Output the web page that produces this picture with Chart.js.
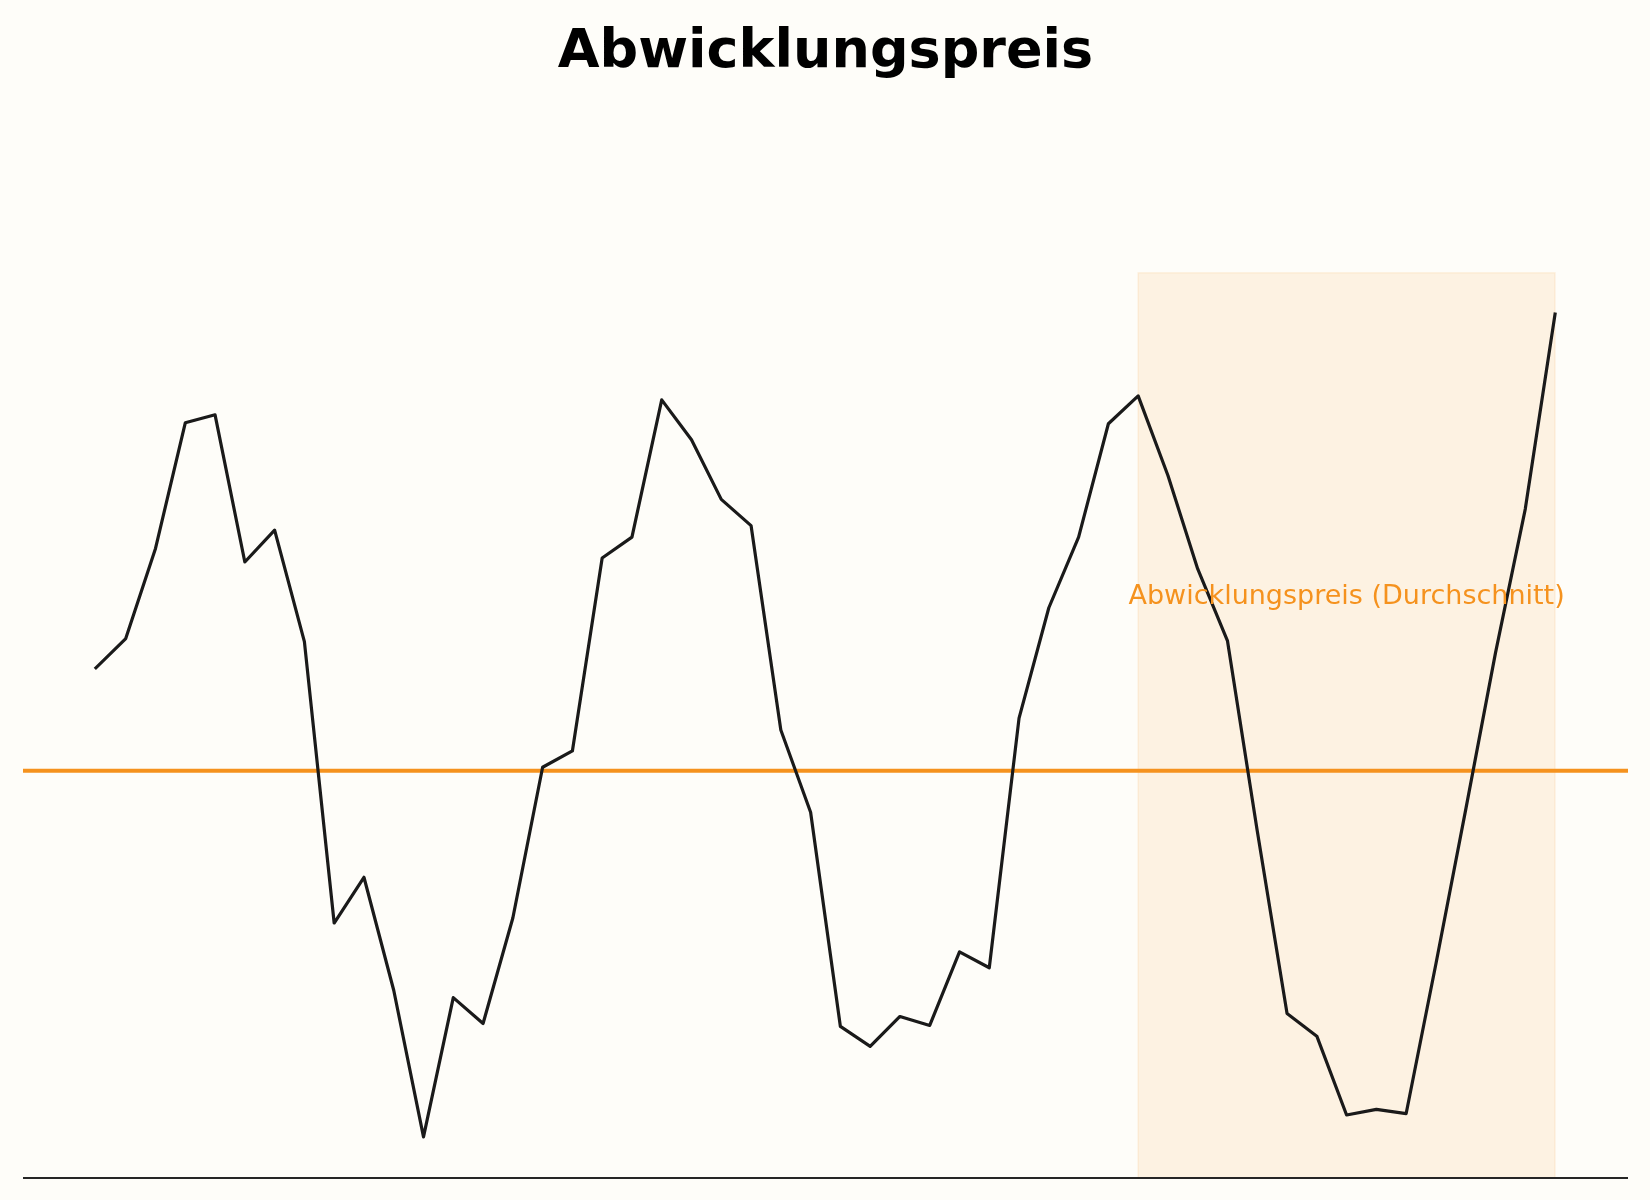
<!DOCTYPE html>
<html lang="de">
<head>
<meta charset="utf-8">
<title>Abwicklungspreis</title>
<script src="https://cdn.jsdelivr.net/npm/chart.js@4.4.1/dist/chart.umd.min.js"></script>
<style>
  html, body { margin: 0; padding: 0; background: #FEFDF9; }
  #wrap { width: 1650px; height: 1200px; position: relative; }
</style>
</head>
<body>
<div id="wrap"><canvas id="chart"></canvas></div>
<script>
// --- Daten ---
const periods = [0, 1, 2, 3, 4, 5, 6, 7, 8, 9, 10, 11, 12, 13, 14, 15, 16, 17, 18, 19,
  20, 21, 22, 23, 24, 25, 26, 27, 28, 29, 30, 31, 32, 33, 34, 35, 36, 37, 38, 39,
  40, 41, 42, 43, 44, 45, 46, 47, 48, 49];
const prices = [105.18, 106.65, 111.18, 117.50, 117.90, 110.50, 112.10, 106.50, 92.35, 94.65,
  88.97, 81.60, 88.60, 87.30, 92.60, 100.18, 101.00, 110.70, 111.75, 118.65,
  116.65, 113.65, 112.33, 102.05, 97.92, 87.15, 86.15, 87.65, 87.20, 90.90,
  90.10, 102.65, 108.20, 111.75, 117.45, 118.85, 114.85, 110.15, 106.53, 96.97,
  87.80, 86.66, 82.70, 82.98, 82.77, 90.30, 98.05, 105.93, 113.16, 122.97];
const averagePrice = 100.0;
const highlightRange = [35, 49];
const averageLabel = 'Abwicklungspreis (Durchschnitt)';
const averageLabelY = 108.4;

const orange = '#F5921E';

const highlightPlugin = {
  id: 'highlight',
  beforeDatasetsDraw(chart) {
    const { ctx, chartArea, scales } = chart;
    const x0 = scales.x.getPixelForValue(highlightRange[0]);
    const x1 = scales.x.getPixelForValue(highlightRange[1]);
    ctx.save();
    ctx.fillStyle = 'rgba(245,146,30,0.10)';
    ctx.fillRect(x0, chartArea.top, x1 - x0, chartArea.bottom - chartArea.top);
    ctx.strokeStyle = 'rgba(245,146,30,0.10)';
    ctx.lineWidth = 1.5;
    ctx.strokeRect(x0, chartArea.top, x1 - x0, chartArea.bottom - chartArea.top);

    // Durchschnittslinie
    const ym = scales.y.getPixelForValue(averagePrice);
    ctx.strokeStyle = orange;
    ctx.lineWidth = 4;
    ctx.beginPath();
    ctx.moveTo(chartArea.left, ym);
    ctx.lineTo(chartArea.right, ym);
    ctx.stroke();

    // untere Achse
    ctx.strokeStyle = '#262626';
    ctx.lineWidth = 2;
    ctx.beginPath();
    ctx.moveTo(chartArea.left, chartArea.bottom);
    ctx.lineTo(chartArea.right, chartArea.bottom);
    ctx.stroke();
    ctx.restore();
  },
  afterDatasetsDraw(chart) {
    const { ctx, scales } = chart;
    const xc = scales.x.getPixelForValue((highlightRange[0] + highlightRange[1]) / 2);
    const yl = scales.y.getPixelForValue(averageLabelY);
    ctx.save();
    ctx.font = '27px "DejaVu Sans"';
    ctx.fillStyle = orange;
    ctx.textAlign = 'center';
    ctx.textBaseline = 'alphabetic';
    ctx.fillText(averageLabel, xc, yl);
    ctx.restore();
  }
};

const ctx = document.getElementById('chart');

new Chart(ctx, {
  type: 'line',
  data: {
    datasets: [{
      label: 'Abwicklungspreis',
      data: periods.map((p, i) => ({ x: p, y: prices[i] })),
      borderColor: '#1A1A1A',
      borderWidth: 3.2,
      borderJoinStyle: 'round',
      borderCapStyle: 'square',
      pointRadius: 0,
      tension: 0,
      fill: false
    }]
  },
  options: {
    responsive: true,
    maintainAspectRatio: false,
    devicePixelRatio: 1,
    animation: false,
    layout: { padding: { left: 23, right: 22, top: 0, bottom: 22 } },
    plugins: {
      legend: { display: false },
      tooltip: { enabled: false },
      title: {
        display: true,
        text: 'Abwicklungspreis',
        color: '#000000',
        font: { family: 'DejaVu Sans', size: 54, weight: 'bold', lineHeight: 1.2 },
        padding: { top: 21, bottom: 187 }
      }
    },
    scales: {
      x: { type: 'linear', display: false, min: -2.45, max: 51.45 },
      y: { display: false, min: 79.53, max: 125.04 }
    }
  },
  plugins: [highlightPlugin]
});
</script>
</body>
</html>
